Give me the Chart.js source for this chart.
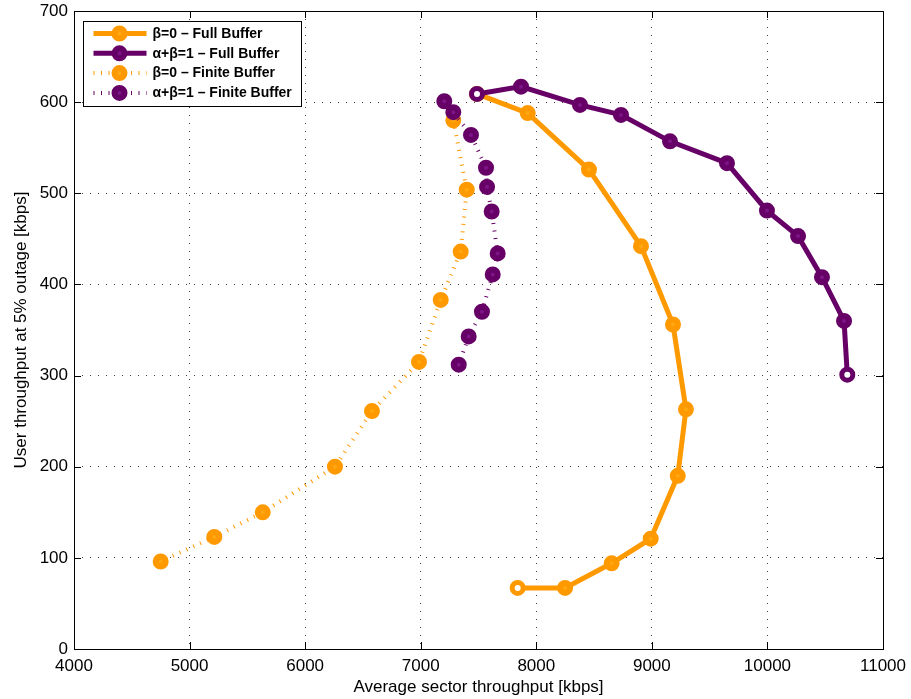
<!DOCTYPE html>
<html>
<head>
<meta charset="utf-8">
<script src="https://cdn.jsdelivr.net/npm/chart.js@4.4.0/dist/chart.umd.min.js"></script>
<style>
  html, body { margin: 0; padding: 0; background: #fff; }
  #wrap { width: 911px; height: 699px; }
</style>
</head>
<body>
<div id="wrap"><canvas id="chart"></canvas></div>
<script>
// Débit moyen secteur vs débit utilisateur à 5% d'outage
const xTicks = [4000, 5000, 6000, 7000, 8000, 9000, 10000, 11000];
const yTicks = [0, 100, 200, 300, 400, 500, 600, 700];

const fullBeta0X = [7487, 7926, 8456, 8906, 9183, 9295, 9224, 8990, 8652, 8249, 7839];
const fullBeta0Y = [609, 588, 526, 442, 356, 263, 190, 121, 94, 67, 67];

const fullAlphaBetaX = [7487, 7868, 8378, 8733, 9157, 9650, 9996, 10265, 10472, 10663, 10691];
const fullAlphaBetaY = [609, 617, 597, 586, 557, 533, 481, 453, 408, 360, 301];

const finiteBeta0X = [7282, 7398, 7346, 7173, 6985, 6578, 6258, 5633, 5214, 4750];
const finiteBeta0Y = [580, 504, 436, 383, 315, 261, 200, 150, 123, 96];

const finiteAlphaBetaX = [7204, 7282, 7435, 7565, 7574, 7614, 7666, 7623, 7530, 7415, 7329];
const finiteAlphaBetaY = [601, 589, 564, 528, 507, 480, 434, 411, 370, 343, 312];

const labels = ['\u03b2=0 \u2013 Full Buffer', '\u03b1+\u03b2=1 \u2013 Full Buffer',
                '\u03b2=0 \u2013 Finite Buffer', '\u03b1+\u03b2=1 \u2013 Finite Buffer'];

const ORANGE = '#ff9900', ORANGE_IN = '#ffa812';
const PURPLE = '#660066', PURPLE_IN = '#7d1487';
const FONT = "'Liberation Sans', Arial, Helvetica, sans-serif";
const DOTS = [1, 6.5];

function points(xs, ys) {
  return xs.map((x, i) => ({x: x, y: ys[i]}));
}

// marqueurs creux (centre blanc) aux indices donnés
function markerStyle(n, inner, open) {
  const bg = [], r = [], bw = [];
  for (let i = 0; i < n; i++) {
    const isOpen = open.indexOf(i) >= 0;
    bg.push(isOpen ? '#ffffff' : inner);
    r.push(isOpen ? 5.5 : 5);
    bw.push(isOpen ? 5 : 6);
  }
  return {pointBackgroundColor: bg, pointRadius: r, pointBorderWidth: bw};
}

function serie(label, xs, ys, color, inner, dotted, open) {
  return Object.assign({
    label: label,
    data: points(xs, ys),
    showLine: true,
    borderColor: color,
    borderWidth: dotted ? 4 : 5,
    borderDash: dotted ? DOTS : [],
    pointBorderColor: color,
    tension: 0,
    fill: false,
    _inner: inner
  }, markerStyle(xs.length, inner, open));
}

// l'indice 0 est dessiné au-dessus
const datasets = [
  serie(labels[1], fullAlphaBetaX, fullAlphaBetaY, PURPLE, PURPLE_IN, false, [0, 10]),
  serie(labels[0], fullBeta0X, fullBeta0Y, ORANGE, ORANGE_IN, false, [0, 10]),
  serie(labels[3], finiteAlphaBetaX, finiteAlphaBetaY, PURPLE, PURPLE_IN, true, []),
  serie(labels[2], finiteBeta0X, finiteBeta0Y, ORANGE, ORANGE_IN, true, [])
];
const legendOrder = [1, 0, 3, 2];

const cadrePlugin = {
  id: 'cadre',
  afterDraw(chart) {
    const ctx = chart.ctx;
    const a = chart.chartArea;
    const sx = chart.scales.x, sy = chart.scales.y;
    ctx.save();
    ctx.strokeStyle = '#000';
    ctx.lineWidth = 1;
    ctx.setLineDash([]);
    // ticks vers l'intérieur
    ctx.beginPath();
    xTicks.forEach(v => {
      const p = Math.round(sx.getPixelForValue(v)) + 0.5;
      ctx.moveTo(p, a.bottom); ctx.lineTo(p, a.bottom - 7);
      ctx.moveTo(p, a.top); ctx.lineTo(p, a.top + 7);
    });
    yTicks.forEach(v => {
      const p = Math.round(sy.getPixelForValue(v)) + 0.5;
      ctx.moveTo(a.left, p); ctx.lineTo(a.left + 7, p);
      ctx.moveTo(a.right, p); ctx.lineTo(a.right - 7, p);
    });
    ctx.stroke();
    ctx.strokeRect(Math.round(a.left) + 0.5, Math.round(a.top) + 0.5,
                   Math.round(a.right - a.left), Math.round(a.bottom - a.top));

    // légende
    const x0 = Math.round(a.left) + 9.5, y0 = Math.round(a.top) + 10.5;
    const w = 218, h = 85;
    ctx.fillStyle = '#fff';
    ctx.fillRect(x0, y0, w, h);
    ctx.strokeRect(x0, y0, w, h);
    ctx.font = 'bold 14px ' + FONT;
    ctx.textBaseline = 'middle';
    ctx.textAlign = 'left';
    legendOrder.forEach((di, row) => {
      const ds = datasets[di];
      const cy = y0 + 12 + row * 19.8;
      ctx.save();
      ctx.strokeStyle = ds.borderColor;
      ctx.lineWidth = ds.borderWidth;
      ctx.setLineDash(ds.borderDash);
      ctx.beginPath();
      ctx.moveTo(x0 + 10, cy); ctx.lineTo(x0 + 63, cy);
      ctx.stroke();
      ctx.setLineDash([]);
      ctx.beginPath();
      ctx.arc(x0 + 36, cy, 5, 0, Math.PI * 2);
      ctx.fillStyle = ds._inner;
      ctx.fill();
      ctx.lineWidth = 6;
      ctx.stroke();
      ctx.restore();
      ctx.fillStyle = '#000';
      ctx.fillText(ds.label, x0 + 69, cy + 0.5);
    });
    ctx.restore();
  }
};

new Chart(document.getElementById('chart'), {
  type: 'scatter',
  data: {datasets: datasets},
  options: {
    responsive: true,
    maintainAspectRatio: false,
    animation: false,
    events: [],
    layout: {padding: {top: 11, right: 28, bottom: 0, left: 0}},
    plugins: {
      legend: {display: false},
      tooltip: {enabled: false}
    },
    scales: {
      x: {
        type: 'linear',
        min: 4000,
        max: 11000,
        afterBuildTicks: s => { s.ticks = xTicks.map(v => ({value: v})); },
        afterFit: s => { s.height = 50; s.paddingLeft = 0; s.paddingRight = 0; },
        ticks: {color: '#000', font: {size: 17, family: FONT}, padding: 7, maxRotation: 0,
                autoSkip: false, callback: v => String(v)},
        grid: {color: 'rgba(0,0,0,0.75)', lineWidth: 1, drawTicks: false},
        border: {display: false, dash: [1, 7]},
        title: {display: true, text: 'Average sector throughput [kbps]', color: '#000',
                font: {size: 17, family: FONT}, padding: {top: 0, bottom: 1}}
      },
      y: {
        type: 'linear',
        min: 0,
        max: 700,
        afterBuildTicks: s => { s.ticks = yTicks.map(v => ({value: v})); },
        afterFit: s => { s.width = 74; s.paddingTop = 0; s.paddingBottom = 0; },
        ticks: {color: '#000', font: {size: 17, family: FONT}, padding: 6, autoSkip: false,
                callback: v => String(v)},
        grid: {color: 'rgba(0,0,0,0.75)', lineWidth: 1, drawTicks: false},
        border: {display: false, dash: [1, 7]},
        title: {display: true, text: 'User throughput at 5% outage [kbps]', color: '#000',
                font: {size: 17, family: FONT}, padding: {top: 11, bottom: 0}}
      }
    }
  },
  plugins: [cadrePlugin]
});
</script>
</body>
</html>
